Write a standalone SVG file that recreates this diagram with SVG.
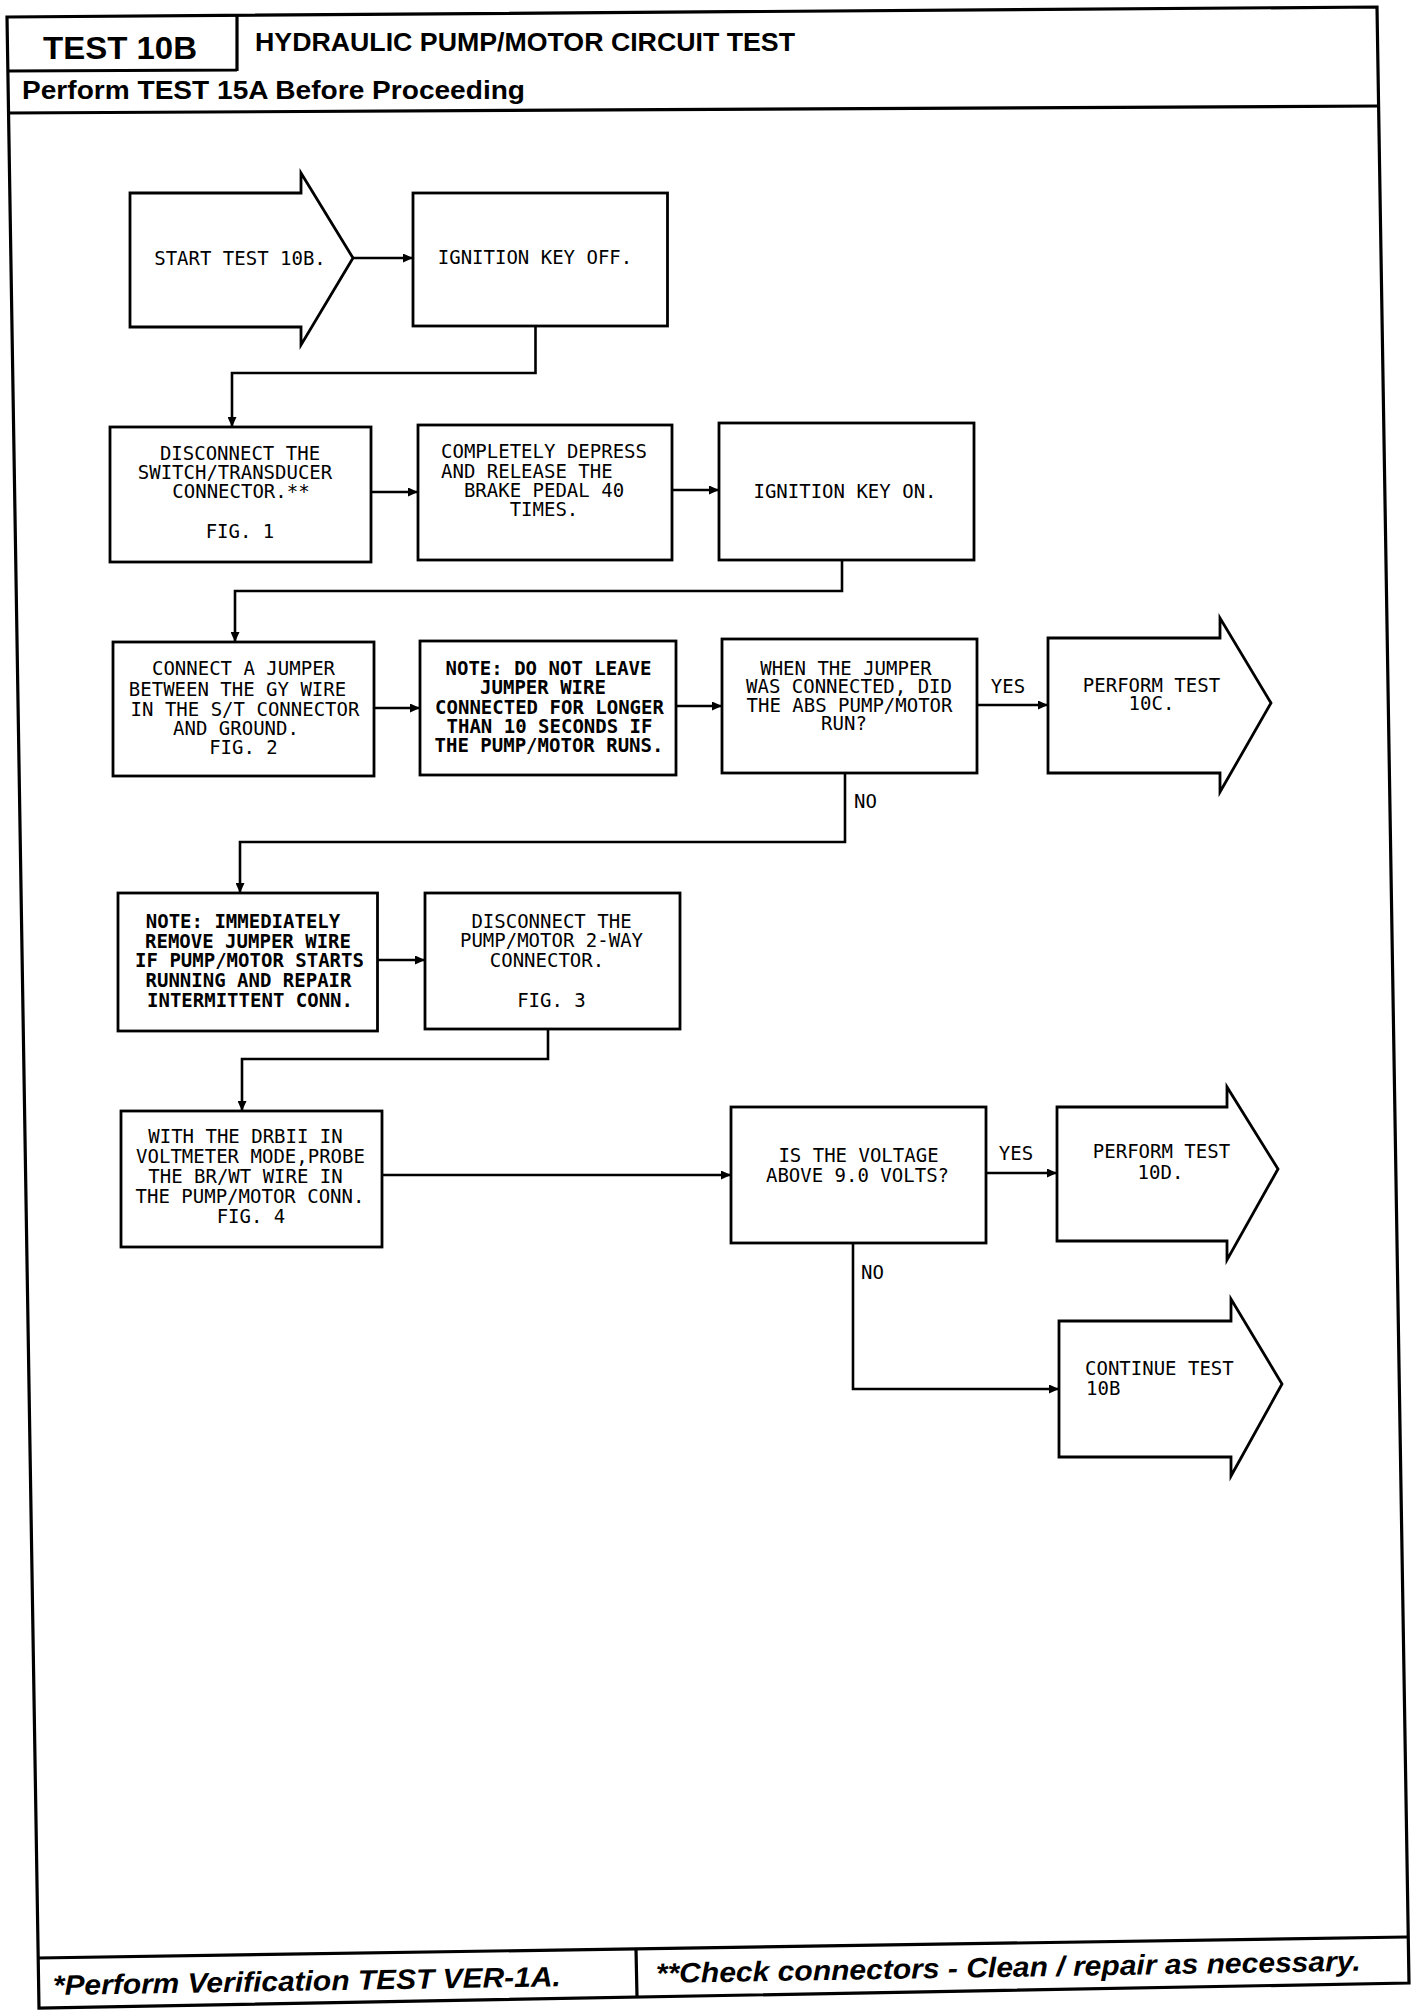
<svg xmlns="http://www.w3.org/2000/svg" width="1424" height="2016" viewBox="0 0 1424 2016">
<style>
.frame{fill:none;stroke:#000;stroke-width:3.2;stroke-linejoin:miter}
.box{fill:#fff;stroke:#000;stroke-width:2.8;stroke-linejoin:miter}
.con{fill:none;stroke:#000;stroke-width:2.6}
.t{font-family:"DejaVu Sans Mono","Liberation Mono",monospace;font-size:19px;fill:#000;text-anchor:middle}
.ts{font-family:"DejaVu Sans Mono","Liberation Mono",monospace;font-size:19px;fill:#000;text-anchor:start}
.b{font-weight:bold}
.hdr{font-family:"Liberation Sans",Arial,sans-serif;font-weight:bold;fill:#000}
.ftr{font-family:"Liberation Sans",Arial,sans-serif;font-weight:bold;font-style:italic;fill:#000;font-size:28px}
</style>
<defs>
<marker id="arr" markerUnits="userSpaceOnUse" markerWidth="11" markerHeight="9" refX="10" refY="4.5" orient="auto">
<path d="M0,0 L10,4.5 L0,9 z" fill="#000"/>
</marker>
</defs>
<rect x="0" y="0" width="1424" height="2016" fill="#fff"/>

<g id="frame">
<path class="frame" d="M7,17 L1377,7 L1409,1983 L39,2008 Z"/>
<path class="frame" d="M237,15 L237,71 M7,71 L237,70"/>
<path class="frame" d="M8,113 L1379,106"/>
<path class="frame" d="M38,1958 L1407,1937"/>
<path class="frame" d="M636,1949 L637,1997"/>
<text class="hdr" x="43" y="59" font-size="32" textLength="154" lengthAdjust="spacingAndGlyphs">TEST 10B</text>
<text class="hdr" x="255" y="51" font-size="26" textLength="540" lengthAdjust="spacingAndGlyphs">HYDRAULIC PUMP/MOTOR CIRCUIT TEST</text>
<text class="hdr" x="22" y="99" font-size="25" textLength="503" lengthAdjust="spacingAndGlyphs">Perform TEST 15A Before Proceeding</text>
<text class="ftr" x="53" y="1995" textLength="508" lengthAdjust="spacingAndGlyphs" transform="rotate(-1 53 1995)">*Perform Verification TEST VER-1A.</text>
<text class="ftr" x="656" y="1983" textLength="705" lengthAdjust="spacingAndGlyphs" transform="rotate(-1 656 1983)">**Check connectors - Clean / repair as necessary.</text>
</g>

<g id="connectors">
<path class="con" d="M353,258 L413,258" marker-end="url(#arr)"/>
<path class="con" d="M535.5,326 L535.5,373 L232,373 L232,427" marker-end="url(#arr)"/>
<path class="con" d="M371,492 L418,492" marker-end="url(#arr)"/>
<path class="con" d="M672,490 L719,490" marker-end="url(#arr)"/>
<path class="con" d="M842,560 L842,591 L235,591 L235,642" marker-end="url(#arr)"/>
<path class="con" d="M374,708 L420,708" marker-end="url(#arr)"/>
<path class="con" d="M676,706 L722,706" marker-end="url(#arr)"/>
<path class="con" d="M977,705 L1048,705" marker-end="url(#arr)"/>
<path class="con" d="M845,773 L845,842 L240,842 L240,893" marker-end="url(#arr)"/>
<path class="con" d="M377.5,960 L425,960" marker-end="url(#arr)"/>
<path class="con" d="M548,1029 L548,1059 L242,1059 L242,1111" marker-end="url(#arr)"/>
<path class="con" d="M382,1175 L731,1175" marker-end="url(#arr)"/>
<path class="con" d="M986,1173 L1057,1173" marker-end="url(#arr)"/>
<path class="con" d="M853,1243 L853,1389 L1059,1389" marker-end="url(#arr)"/>
<text class="t" x="1008" y="693">YES</text>
<text class="ts" x="854" y="808">NO</text>
<text class="t" x="1016" y="1160">YES</text>
<text class="ts" x="861" y="1279">NO</text>
</g>

<g id="start">
<path class="box" d="M130,193 L301,193 L301,173 L353,258 L301,345 L301,327 L130,327 Z"/>
<text class="t" x="240" y="265">START TEST 10B.</text>
</g>

<g id="ign_off">
<rect class="box" x="413" y="193" width="254.5" height="133"/>
<text class="t" x="535" y="264">IGNITION KEY OFF.</text>
</g>

<g id="disconnect_st">
<rect class="box" x="110" y="427" width="261" height="135"/>
<text class="t" x="240" y="460">DISCONNECT THE</text>
<text class="t" x="235" y="479">SWITCH/TRANSDUCER</text>
<text class="t" x="241" y="498">CONNECTOR.**</text>
<text class="t" x="240" y="538">FIG. 1</text>
</g>

<g id="depress">
<rect class="box" x="418" y="425" width="254" height="135"/>
<text class="t" x="544" y="458">COMPLETELY DEPRESS</text>
<text class="ts" x="441" y="478">AND RELEASE THE</text>
<text class="t" x="544" y="497">BRAKE PEDAL 40</text>
<text class="t" x="544" y="516">TIMES.</text>
</g>

<g id="ign_on">
<rect class="box" x="719" y="423" width="255" height="137"/>
<text class="t" x="845" y="498">IGNITION KEY ON.</text>
</g>

<g id="connect_jumper">
<rect class="box" x="113" y="642" width="261" height="134"/>
<text class="t" x="243.5" y="675">CONNECT A JUMPER</text>
<text class="t" x="237.5" y="696">BETWEEN THE GY WIRE</text>
<text class="t" x="245" y="716">IN THE S/T CONNECTOR</text>
<text class="t" x="236" y="735">AND GROUND.</text>
<text class="t" x="243.5" y="754">FIG. 2</text>
</g>

<g id="note_leave">
<rect class="box" x="420" y="641" width="256" height="134"/>
<text class="t b" x="548.5" y="675">NOTE: DO NOT LEAVE</text>
<text class="t b" x="543" y="694">JUMPER WIRE</text>
<text class="t b" x="549.5" y="714">CONNECTED FOR LONGER</text>
<text class="t b" x="549.5" y="733">THAN 10 SECONDS IF</text>
<text class="t b" x="549" y="752">THE PUMP/MOTOR RUNS.</text>
</g>

<g id="when_jumper">
<rect class="box" x="722" y="639" width="255" height="134"/>
<text class="t" x="846" y="675">WHEN THE JUMPER</text>
<text class="t" x="849" y="693">WAS CONNECTED, DID</text>
<text class="t" x="849.5" y="712">THE ABS PUMP/MOTOR</text>
<text class="t" x="844" y="730">RUN?</text>
</g>

<g id="perform_10c">
<path class="box" d="M1048,638 L1220,638 L1220,618 L1271,703 L1220,792 L1220,773 L1048,773 Z"/>
<text class="t" x="1151.5" y="692">PERFORM TEST</text>
<text class="t" x="1151.5" y="710">10C.</text>
</g>

<g id="note_immediately">
<rect class="box" x="118" y="893" width="259.5" height="138"/>
<text class="t b" x="243" y="928">NOTE: IMMEDIATELY</text>
<text class="t b" x="248" y="948">REMOVE JUMPER WIRE</text>
<text class="t b" x="249.5" y="967">IF PUMP/MOTOR STARTS</text>
<text class="t b" x="248.5" y="987">RUNNING AND REPAIR</text>
<text class="t b" x="250" y="1007">INTERMITTENT CONN.</text>
</g>

<g id="disconnect_pump">
<rect class="box" x="425" y="893" width="255" height="136"/>
<text class="t" x="551.5" y="928">DISCONNECT THE</text>
<text class="t" x="551.5" y="947">PUMP/MOTOR 2-WAY</text>
<text class="t" x="547" y="966.5">CONNECTOR.</text>
<text class="t" x="551.5" y="1006.5">FIG. 3</text>
</g>

<g id="drbii_probe">
<rect class="box" x="121" y="1111" width="261" height="136"/>
<text class="t" x="245.5" y="1143">WITH THE DRBII IN</text>
<text class="t" x="250.5" y="1163">VOLTMETER MODE,PROBE</text>
<text class="t" x="245.5" y="1183">THE BR/WT WIRE IN</text>
<text class="t" x="250" y="1203">THE PUMP/MOTOR CONN.</text>
<text class="t" x="251" y="1222.5">FIG. 4</text>
</g>

<g id="voltage_check">
<rect class="box" x="731" y="1107" width="255" height="136"/>
<text class="t" x="858.5" y="1161.5">IS THE VOLTAGE</text>
<text class="t" x="857.5" y="1181.5">ABOVE 9.0 VOLTS?</text>
</g>

<g id="perform_10d">
<path class="box" d="M1057,1107 L1227,1107 L1227,1087 L1278,1169 L1227,1260 L1227,1241 L1057,1241 Z"/>
<text class="t" x="1161.5" y="1158">PERFORM TEST</text>
<text class="t" x="1160.5" y="1179">10D.</text>
</g>

<g id="continue_10b">
<path class="box" d="M1059,1321 L1231,1321 L1231,1299 L1282,1384 L1231,1476 L1231,1457 L1059,1457 Z"/>
<text class="ts" x="1085" y="1375">CONTINUE TEST</text>
<text class="ts" x="1086" y="1395">10B</text>
</g>
</svg>
